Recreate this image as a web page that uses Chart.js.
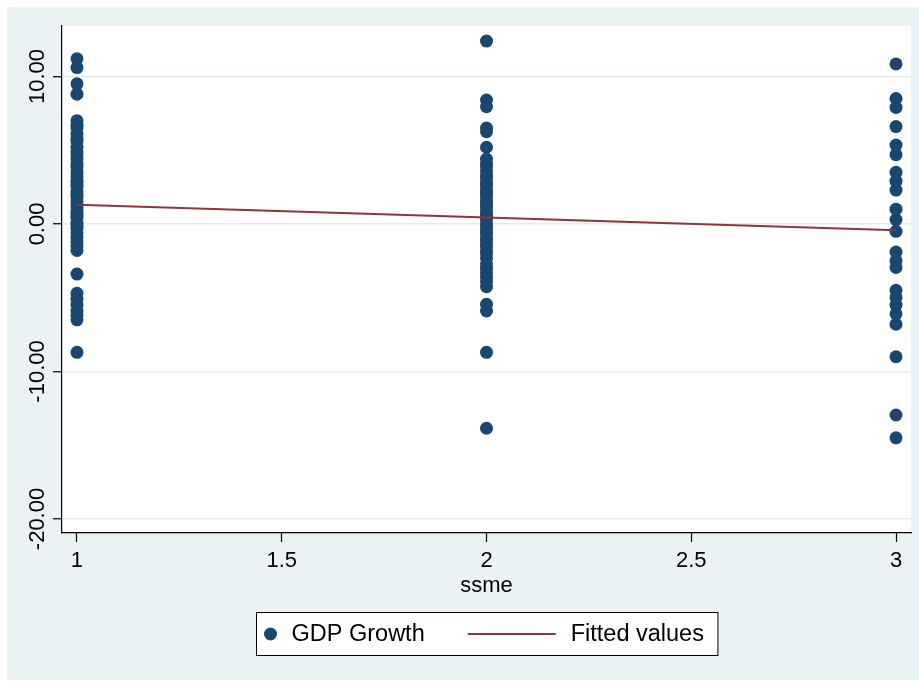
<!DOCTYPE html>
<html>
<head>
<meta charset="utf-8">
<script src="https://cdn.jsdelivr.net/npm/chart.js@4/dist/chart.umd.min.js"></script>
<style>
  html, body { margin: 0; padding: 0; background: #ffffff; }
  #wrap { width: 919px; height: 686px; }
</style>
</head>
<body>
<div id="wrap"><canvas id="c" width="919" height="686"></canvas></div>
<script>
// GDP growth observations grouped by ssme level
const ssmeLevels = [1, 2, 3];
const growthAtSsme1 = [11.2, 10.6, 9.5, 8.8, 7.0, 6.7, 6.5, 6.1, 5.8, 5.6, 5.2, 4.9, 4.7, 4.4, 4.1, 3.9,
  3.6, 3.4, 3.2, 2.9, 2.7, 2.5, 2.2, 2.0, 1.8, 1.5, 1.3, 1.1, 0.8, 0.6, 0.4, 0.1, -0.1, -0.3, -0.6,
  -0.9, -1.2, -1.5, -1.8, -3.4, -4.7, -5.1, -5.5, -5.9, -6.2, -6.5, -8.7];
const growthAtSsme2 = [12.4, 8.4, 7.95, 6.5, 6.25, 5.2, 4.4, 4.1, 3.9, 3.6, 3.3, 3.1, 2.8, 2.6, 2.3, 2.1,
  1.9, 1.6, 1.4, 1.2, 0.9, 0.7, 0.5, 0.3, 0.0, -0.2, -0.5, -0.7, -1.0, -1.2, -1.5, -1.8, -2.0, -2.3,
  -2.7, -3.0, -3.3, -3.6, -3.9, -4.25, -5.45, -5.9, -8.7, -13.85];
const growthAtSsme3 = [10.85, 8.5, 7.9, 6.6, 5.35, 4.7, 3.5, 2.9, 2.3, 1.0, 0.3, -0.5, -1.9, -2.5, -2.95,
  -4.5, -5.0, -5.5, -6.1, -6.8, -9.0, -12.95, -14.5];

// Linear fit evaluated at each ssme level
const fittedValues = [1.30, 0.43, -0.43];

const xTickValues = [1, 1.5, 2, 2.5, 3];
const yTickValues = [-20, -10, 0, 10];
const seriesLabels = ['GDP Growth', 'Fitted values'];
const xAxisTitle = 'ssme';

const growthGroups = [growthAtSsme1, growthAtSsme2, growthAtSsme3];
const scatterPoints = [];
growthGroups.forEach((group, i) => {
  group.forEach(v => scatterPoints.push({ x: ssmeLevels[i], y: v }));
});
const fittedPoints = ssmeLevels.map((x, i) => ({ x, y: fittedValues[i] }));

const NAVY = '#1a476f';
const MAROON = '#90353b';
const PANEL = '#eaf2f3';
const FONT = '"Liberation Sans", Arial, sans-serif';
const FONT_SIZE = 22;
const LEGEND_FONT_SIZE = 23.5;

// Page background, white plot region, rotated y labels and the boxed legend
const stataFrame = {
  id: 'stataFrame',
  beforeDraw(chart) {
    const { ctx, chartArea: a } = chart;
    ctx.save();
    ctx.fillStyle = '#ffffff';
    ctx.fillRect(0, 0, chart.width, chart.height);
    ctx.fillStyle = PANEL;
    ctx.fillRect(7, 7, chart.width - 7, chart.height - 13);
    ctx.fillStyle = '#ffffff';
    ctx.fillRect(a.left, a.top, a.right - a.left, a.bottom - a.top);
    ctx.restore();
  },
  afterDraw(chart) {
    const { ctx, chartArea: a } = chart;
    const ys = chart.scales.y;
    ctx.save();
    ctx.font = FONT_SIZE + 'px ' + FONT;
    ctx.fillStyle = '#000000';
    ctx.textAlign = 'center';
    ctx.textBaseline = 'middle';
    ys.ticks.forEach(t => {
      const py = ys.getPixelForValue(t.value);
      ctx.save();
      ctx.translate(38, py);
      ctx.rotate(-Math.PI / 2);
      ctx.fillText(t.value.toFixed(2), 0, 0);
      ctx.restore();
    });

    // legend
    ctx.font = LEGEND_FONT_SIZE + 'px ' + FONT;
    const w1 = ctx.measureText(seriesLabels[0]).width;
    const w2 = ctx.measureText(seriesLabels[1]).width;
    const padL = 14, dotGap = 21, midGap = 43, lineLen = 88, lineGap = 15, padR = 14;
    const boxW = padL + dotGap + w1 + midGap + lineLen + lineGap + w2 + padR;
    const boxH = 43;
    const cx = (a.left + a.right) / 2;
    const bx = Math.round(cx - boxW / 2) + 0.5;
    const by = 612.5;
    const my = by + boxH / 2;
    ctx.fillStyle = '#ffffff';
    ctx.fillRect(bx, by, boxW, boxH);
    ctx.strokeStyle = '#000000';
    ctx.lineWidth = 1;
    ctx.strokeRect(bx, by, boxW, boxH);

    let x = bx + padL;
    ctx.fillStyle = NAVY;
    ctx.beginPath();
    ctx.arc(x, my, 6.5, 0, Math.PI * 2);
    ctx.fill();
    x += dotGap;
    ctx.fillStyle = '#000000';
    ctx.textAlign = 'left';
    ctx.fillText(seriesLabels[0], x, my + 1);
    x += w1 + midGap;
    ctx.strokeStyle = MAROON;
    ctx.lineWidth = 2;
    ctx.beginPath();
    ctx.moveTo(x, my);
    ctx.lineTo(x + lineLen, my);
    ctx.stroke();
    x += lineLen + lineGap;
    ctx.fillText(seriesLabels[1], x, my + 1);
    ctx.restore();
  }
};

new Chart(document.getElementById('c'), {
  type: 'scatter',
  data: {
    datasets: [
      {
        label: seriesLabels[0],
        data: scatterPoints,
        backgroundColor: NAVY,
        borderWidth: 0,
        pointRadius: 6.5,
        pointHoverRadius: 6.5,
        order: 1
      },
      {
        label: seriesLabels[1],
        data: fittedPoints,
        showLine: true,
        borderColor: MAROON,
        borderWidth: 2,
        pointRadius: 0,
        pointHoverRadius: 0,
        fill: false,
        order: 0
      }
    ]
  },
  options: {
    responsive: false,
    animation: false,
    devicePixelRatio: 1,
    layout: { padding: { left: 7, top: 26, right: 8, bottom: 87 } },
    plugins: {
      legend: { display: false },
      tooltip: { enabled: false },
      title: { display: false }
    },
    scales: {
      x: {
        type: 'linear',
        min: 0.9634,
        max: 3.0366,
        afterBuildTicks: s => { s.ticks = xTickValues.map(v => ({ value: v })); },
        afterFit: s => { s.height = 66; },
        ticks: {
          autoSkip: false,
          maxRotation: 0,
          padding: 6,
          color: '#000000',
          font: { family: FONT, size: FONT_SIZE },
          callback: v => String(v)
        },
        grid: {
          drawOnChartArea: false,
          drawTicks: true,
          tickLength: 9,
          tickColor: '#000000',
          tickWidth: 1.2
        },
        border: { display: true, color: '#000000', width: 1.2 },
        title: {
          display: true,
          text: xAxisTitle,
          color: '#000000',
          padding: 0,
          font: { family: FONT, size: FONT_SIZE }
        }
      },
      y: {
        type: 'linear',
        min: -20.95,
        max: 13.42,
        afterBuildTicks: s => { s.ticks = yTickValues.map(v => ({ value: v })); },
        afterFit: s => { s.width = 55; },
        ticks: { display: false },
        grid: {
          color: '#e4ecef',
          lineWidth: 1.5,
          drawTicks: true,
          tickLength: 9,
          tickColor: '#000000',
          tickWidth: 1.2
        },
        border: { display: true, color: '#000000', width: 1.2 }
      }
    }
  },
  plugins: [stataFrame]
});
</script>
</body>
</html>
